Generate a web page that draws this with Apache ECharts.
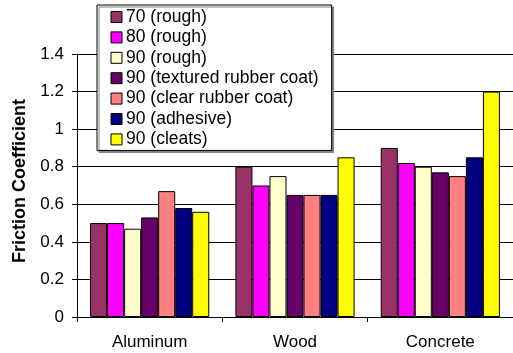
<!DOCTYPE html>
<html><head><meta charset="utf-8">
<script src="https://cdn.jsdelivr.net/npm/echarts@6/dist/echarts.min.js"></script>
<style>html,body{margin:0;padding:0;background:#fff}#c{width:513px;height:353px}</style>
</head><body><div id="c"></div>
<script>
const categories = ['Aluminum', 'Wood', 'Concrete'];
const seriesNames = ['70 (rough)', '80 (rough)', '90 (rough)', '90 (textured rubber coat)', '90 (clear rubber coat)', '90 (adhesive)', '90 (cleats)'];
const s70rough = [0.50, 0.80, 0.90];
const s80rough = [0.50, 0.70, 0.82];
const s90rough = [0.47, 0.75, 0.80];
const s90textured = [0.53, 0.65, 0.77];
const s90clear = [0.67, 0.65, 0.75];
const s90adhesive = [0.58, 0.65, 0.85];
const s90cleats = [0.56, 0.85, 1.20];
const colors = ['#993366', '#FF00FF', '#FFFFCC', '#660066', '#FF8080', '#000080', '#FFFF00'];
const allData = [s70rough, s80rough, s90rough, s90textured, s90clear, s90adhesive, s90cleats];

const font = 'Liberation Sans, Arial, sans-serif';
const chart = echarts.init(document.getElementById('c'));
chart.setOption({
  animation: false,
  textStyle: { fontFamily: font },
  grid: { left: 77, top: 54, width: 441, height: 263 },
  legend: {
    orient: 'vertical',
    left: 97, top: 5,
    padding: [3, 13, 2, 13.5],
    icon: 'rect',
    itemWidth: 11, itemHeight: 11, itemGap: 2.4,
    backgroundColor: '#fff',
    borderColor: '#000', borderWidth: 1,
    shadowColor: '#808080', shadowOffsetX: 2, shadowOffsetY: 2, shadowBlur: 0,
    itemStyle: { borderColor: '#000', borderWidth: 1 },
    textStyle: { fontFamily: font, fontSize: 17.5, lineHeight: 18, color: '#000', padding: [0, 0, 0, -1] },
    data: seriesNames
  },
  xAxis: {
    type: 'category',
    data: categories,
    axisLine: { lineStyle: { color: '#000' } },
    axisTick: { show: true, length: 5, lineStyle: { color: '#000' } },
    axisLabel: { color: '#000', fontSize: 17, margin: 16.5, fontFamily: font }
  },
  yAxis: {
    type: 'value',
    min: 0, max: 1.4, interval: 0.2,
    name: 'Friction Coefficient',
    nameLocation: 'middle',
    nameGap: 47,
    nameTextStyle: { fontSize: 18, fontWeight: 'bold', color: '#000', fontFamily: font, padding: [0, 0, 0, 9] },
    axisLine: { show: true, lineStyle: { color: '#000' } },
    axisTick: { show: true, length: 5, lineStyle: { color: '#000' } },
    axisLabel: { color: '#000', fontSize: 17, margin: 13, fontFamily: font,
      formatter: v => (Math.round(v * 10) / 10).toString() },
    splitLine: { show: true, lineStyle: { color: '#000', width: 1 } }
  },
  series: seriesNames.map((n, i) => ({
    name: n,
    type: 'bar',
    data: allData[i],
    barGap: 0,
    barCategoryGap: '18%',
    itemStyle: { color: colors[i], borderColor: '#000', borderWidth: 1 }
  }))
});
</script>
</body></html>
